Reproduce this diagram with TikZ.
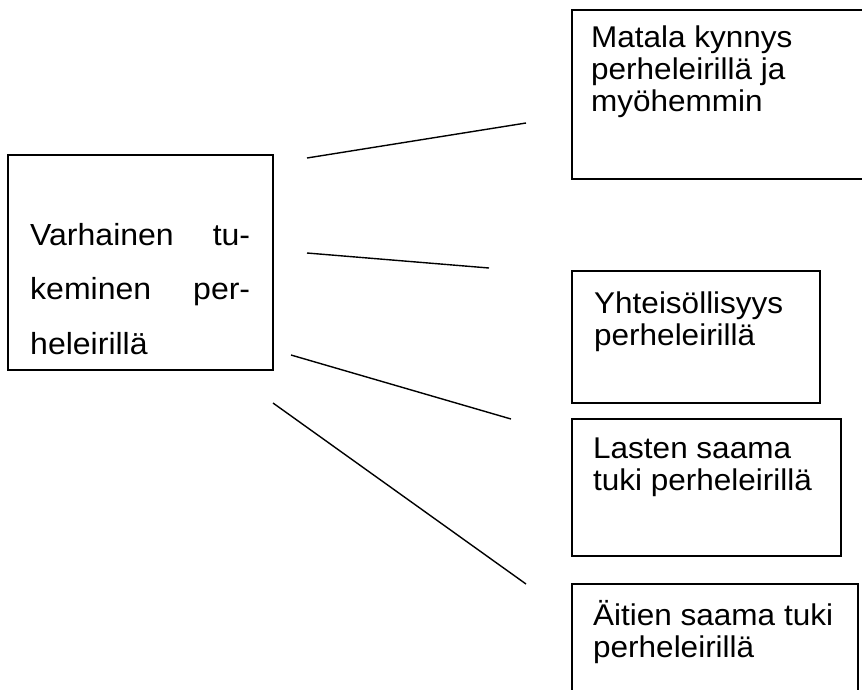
\documentclass[tikz,border=0pt]{standalone}
\usepackage{fontspec}
\setmainfont[FakeStretch=1.05]{Liberation Sans}
\begin{document}
\begin{tikzpicture}[x=1pt,y=-1pt,
  frame/.style={draw=black,line width=1.4pt,inner sep=0pt},
  txt/.style={anchor=base west,inner sep=0pt,font=\fontsize{30}{32}\selectfont},
  conn/.style={line width=1.4pt}]
\useasboundingbox (0,0) rectangle (862,689);
\clip (0,0) rectangle (862,689);
\fill[white] (0,0) rectangle (862,689);
% boxes
\node[frame,minimum width=265pt,minimum height=215pt] (A) at (140.5,262.5) {};
\node[frame,minimum width=380pt,minimum height=169pt] (B) at (762,94.5) {};
\node[frame,minimum width=248pt,minimum height=132pt] (C) at (696,337) {};
\node[frame,minimum width=269pt,minimum height=137pt] (D) at (706.5,487.5) {};
\node[frame,minimum width=286pt,minimum height=160pt] (E) at (715,664) {};
% texts
\node[txt,font=\fontsize{30.5}{32}\selectfont] (tA) at (30,245) {\vtop{\baselineskip=54.5pt
  \hbox to 220pt{Varhainen\hfill tu-}\hbox to 220pt{keminen\hfill per-}\hbox{heleirillä}}};
\node[txt] (tB) at (591,47) {\vtop{\baselineskip=32pt
  \hbox{Matala kynnys}\hbox{perheleirillä ja}\hbox{myöhemmin}}};
\node[txt] (tC) at (594,313) {\vtop{\baselineskip=32pt
  \hbox{Yhteisöllisyys}\hbox{perheleirillä}}};
\node[txt] (tD) at (593,458) {\vtop{\baselineskip=32pt
  \hbox{Lasten saama}\hbox{tuki perheleirillä}}};
\node[txt] (tE) at (593,625) {\vtop{\baselineskip=32pt
  \hbox{Äitien saama tuki}\hbox{perheleirillä}}};
% connectors
\coordinate (s1) at (307,158); \coordinate (e1) at (526,123);
\coordinate (s2) at (307,253); \coordinate (e2) at (489,268);
\coordinate (s3) at (291,355); \coordinate (e3) at (511,419);
\coordinate (s4) at (273,403); \coordinate (e4) at (526,584);
\draw[conn] (s1) -- (e1);
\draw[conn] (s2) -- (e2);
\draw[conn] (s3) -- (e3);
\draw[conn] (s4) -- (e4);
\end{tikzpicture}
\end{document}
